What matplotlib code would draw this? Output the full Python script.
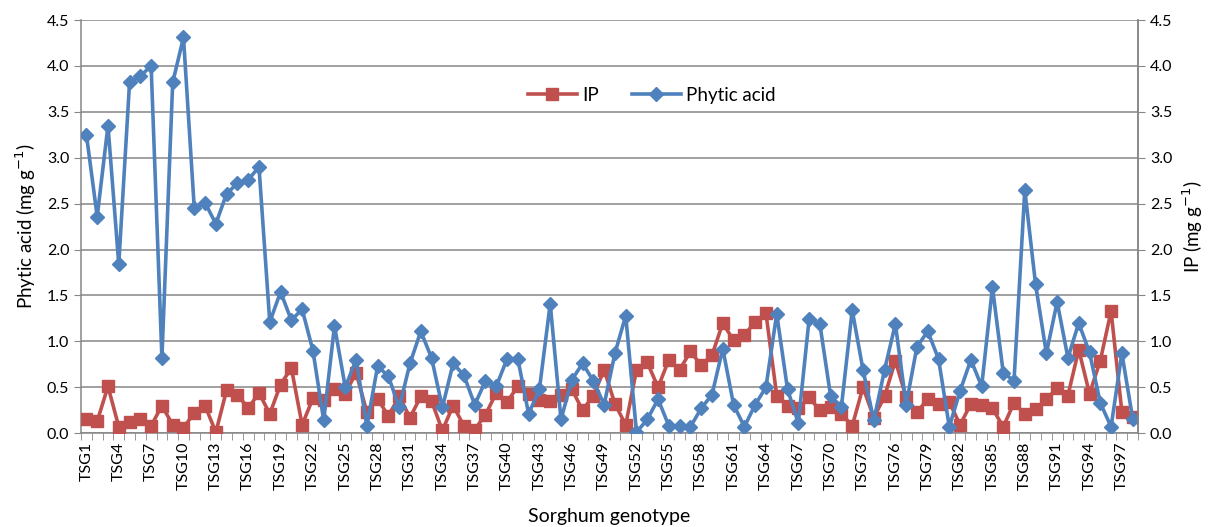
import matplotlib.pyplot as plt
import numpy as np

plt.rcParams['font.family'] = ['Lato', 'DejaVu Sans']

genotypes = [f"TSG{i}" for i in range(1, 99)]

phytic_acid = [
    3.25, 2.36, 3.35, 1.84, 3.82, 3.89, 4.00, 0.82, 3.82, 4.31,
    2.45, 2.51, 2.28, 2.61, 2.72, 2.76, 2.90, 1.21, 1.54, 1.23,
    1.35, 0.90, 0.14, 1.17, 0.50, 0.80, 0.08, 0.73, 0.62, 0.28,
    0.76, 1.11, 0.82, 0.28, 0.76, 0.63, 0.31, 0.57, 0.51, 0.81,
    0.81, 0.21, 0.48, 1.41, 0.15, 0.58, 0.76, 0.57, 0.31, 0.87,
    1.28, 0.01, 0.15, 0.37, 0.08, 0.08, 0.07, 0.27, 0.42, 0.92,
    0.31, 0.07, 0.31, 0.50, 1.30, 0.48, 0.11, 1.24, 1.19, 0.40,
    0.29, 1.34, 0.69, 0.14, 0.69, 1.19, 0.31, 0.94, 1.11, 0.81,
    0.07, 0.46, 0.80, 0.51, 1.59, 0.66, 0.57, 2.65, 1.62, 0.87,
    1.43, 0.82, 1.20, 0.88, 0.33, 0.07, 0.87, 0.16,
]

ip = [
    0.15, 0.13, 0.51, 0.07, 0.12, 0.16, 0.08, 0.30, 0.09, 0.06,
    0.22, 0.30, 0.01, 0.47, 0.42, 0.27, 0.44, 0.21, 0.53, 0.71,
    0.09, 0.38, 0.36, 0.48, 0.43, 0.66, 0.23, 0.37, 0.19, 0.40,
    0.17, 0.40, 0.35, 0.03, 0.30, 0.08, 0.04, 0.20, 0.44, 0.34,
    0.51, 0.43, 0.36, 0.35, 0.42, 0.48, 0.25, 0.41, 0.69, 0.32,
    0.09, 0.69, 0.77, 0.50, 0.80, 0.69, 0.89, 0.74, 0.85, 1.20,
    1.01, 1.07, 1.21, 1.31, 0.41, 0.30, 0.27, 0.39, 0.25, 0.29,
    0.21, 0.08, 0.50, 0.17, 0.40, 0.79, 0.39, 0.23, 0.37, 0.32,
    0.34, 0.09, 0.32, 0.31, 0.27, 0.07, 0.33, 0.21, 0.26, 0.37,
    0.49, 0.41, 0.91, 0.43, 0.79, 1.33, 0.23, 0.18,
]

red = "#C0504D"
blue = "#4F81BD"
grid_col = "#868686"

fig = plt.figure(figsize=(12.22, 5.27), dpi=100)
ax = fig.add_axes([0.0663, 0.178, 0.865, 0.784])
x = np.arange(1, len(genotypes) + 1)

ax.plot(x, ip, color=red, lw=2.6, marker="s", ms=8, label="IP", zorder=3)
ax.plot(x, phytic_acid, color=blue, lw=2.6, marker="D", ms=7, label="Phytic acid", zorder=4)

ax.set_xlim(0.5, len(genotypes) + 0.5)
ax.set_ylim(0, 4.5)
yt = np.arange(0, 4.51, 0.5)
ax.set_yticks(yt)
ax.set_yticklabels([f"{v:.1f}" for v in yt], fontsize=11.5)
ax.yaxis.grid(True, color=grid_col, lw=1.1)
ax.set_axisbelow(True)

ax.set_xticks(x[::3])
ax.set_xticklabels(genotypes[::3], rotation=90, fontsize=11.5)
ax.set_xticks(np.arange(0.5, len(genotypes) + 1, 1), minor=True)
ax.tick_params(axis="x", which="major", length=0, pad=6)
ax.tick_params(axis="x", which="minor", length=5, color=grid_col)
ax.tick_params(axis="y", length=5, color=grid_col)

ax.spines["top"].set_visible(False)
for s in ["left", "right", "bottom"]:
    ax.spines[s].set_color(grid_col)
    ax.spines[s].set_linewidth(1.1)

ax.set_ylabel("Phytic acid (mg g$^{-1}$)", fontsize=13.5, labelpad=6)
ax.set_xlabel("Sorghum genotype", fontsize=14, labelpad=13)

ax2 = ax.twinx()
ax2.set_ylim(0, 4.5)
ax2.set_yticks(yt)
ax2.set_yticklabels([f"{v:.1f}" for v in yt], fontsize=11.5)
ax2.tick_params(axis="y", length=5, color=grid_col)
for s in ["top", "left", "bottom"]:
    ax2.spines[s].set_visible(False)
ax2.spines["right"].set_color(grid_col)
ax2.spines["right"].set_linewidth(1.1)
ax2.set_ylabel("IP (mg g$^{-1}$)", fontsize=13.5, labelpad=6)

ax.legend(loc="center", bbox_to_anchor=(0.540, 0.818), ncol=2, frameon=False,
          fontsize=13.5, handlelength=2.6, columnspacing=1.75, handletextpad=0.3)

fig.savefig("out.png", dpi=100)
